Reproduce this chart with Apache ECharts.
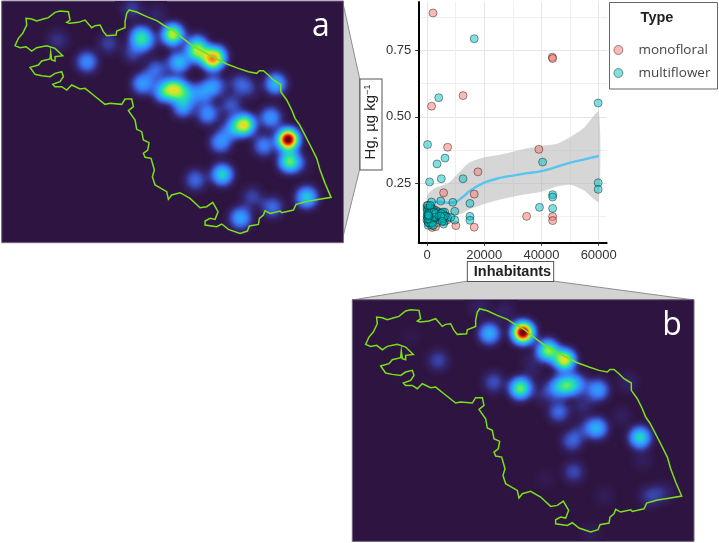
<!DOCTYPE html>
<html><head><meta charset="utf-8">
<style>html,body{margin:0;padding:0;background:#fff}#c{width:719px;height:543px}</style>
<script src="https://cdn.jsdelivr.net/npm/echarts@6/dist/echarts.min.js"></script>
</head><body><div id="c"></div>
<script>
// Region outline, in map units
const outline = [[387,30],[410,36],[440,50],[470,62],[490,75],[520,92],[545,112],[575,135],[600,150],[640,172],[680,192],[715,205],[745,215],[770,220],[778,212],[790,212],[805,225],[820,240],[842,253],[842,275],[860,300],[875,330],[885,355],[897,372],[912,400],[930,435],[950,475],[960,510],[975,550],[993,592],[945,600],[920,604],[888,613],[880,630],[845,638],[840,633],[810,640],[795,632],[790,645],[778,655],[775,673],[748,678],[742,693],[720,700],[685,688],[665,672],[650,680],[615,675],[615,663],[630,655],[645,658],[654,635],[638,607],[620,620],[600,623],[570,595],[540,578],[515,585],[505,598],[500,575],[465,555],[457,530],[463,510],[453,475],[435,472],[430,460],[443,450],[447,428],[430,420],[425,395],[410,388],[405,360],[385,332],[400,320],[395,297],[375,297],[365,313],[330,310],[315,313],[280,285],[255,265],[240,267],[215,255],[200,270],[185,260],[165,260],[158,253],[180,245],[190,230],[185,215],[165,220],[150,230],[125,227],[105,223],[90,202],[115,195],[125,183],[150,177],[152,157],[155,180],[165,183],[165,170],[188,167],[165,145],[140,137],[110,143],[95,153],[78,140],[60,143],[45,137],[55,115],[68,100],[80,75],[78,55],[95,57],[110,63],[130,57],[145,53],[165,37],[180,33],[205,35],[210,60],[200,67],[208,70],[235,67],[255,60],[275,83],[285,77],[300,75],[310,95],[320,107],[348,105],[350,93],[375,83],[375,65],[380,40],[387,30]];
const panelBounds = [[5,3],[1030,3],[1030,728],[5,728],[5,3]];

// Hotspots: map x, map y, intensity
const hotspotsA = [[862,417,1],[866,483,.56],[732,373,.68],[810,352,.33],[790,435,.28],[660,425,.32],[695,385,.3],[622,340,.31],[692,315,.2],[548,318,.36],[520,265,.54],[490,275,.4],[550,275,.36],[640,258,.32],[600,280,.3],[427,250,.34],[467,210,.24],[535,187,.4],[590,155,.54],[635,178,.7],[650,165,.32],[517,103,.66],[420,110,.44],[440,125,.2],[400,155,.18],[325,130,.15],[172,120,.12],[260,185,.3],[825,250,.4],[715,250,.18],[745,265,.13],[665,522,.46],[585,538,.23],[720,652,.36],[755,590,.16],[815,620,.24],[918,590,.44],[395,25,.14],[465,45,.09],[900,490,.09],[590,130,.26]];
const hotspotsB = [[516,101,1],[590,155,.6],[640,183,.7],[415,104,.38],[508,268,.58],[650,258,.42],[620,265,.32],[680,255,.24],[740,273,.34],[428,250,.18],[262,185,.16],[623,338,.24],[695,318,.11],[577,285,.11],[737,387,.38],[663,425,.22],[695,390,.11],[866,415,.48],[668,518,.17],[812,350,.06],[875,480,.06],[585,540,.04],[540,190,.07],[545,230,.05],[760,590,.05],[895,590,.14],[935,580,.1],[385,25,.08],[460,40,.08],[830,250,.08],[180,115,.03],[720,700,.05]];

// Scatter: inhabitants, Hg
const monofloral = [[2100,.892],[43800,.725],[43900,.72],[12600,.58],[1600,.54],[7200,.385],[39100,.377],[17800,.292],[5800,.213],[16500,.208],[34800,.124],[43900,.123],[43900,.108],[16500,.083],[10100,.089],[0,.165],[300,.13],[600,.115],[1000,.095],[1800,.082],[2500,.15],[3000,.085],[3500,.1],[3800,.13],[500,.155],[4200,.12],[7000,.11],[6000,.12],[2700,.125]];
const multiflower = [[16500,.795],[59800,.552],[4100,.572],[200,.395],[6300,.344],[3500,.322],[40400,.329],[5000,.266],[12600,.266],[900,.254],[59800,.251],[59800,.226],[43900,.206],[43900,.197],[15000,.173],[9000,.177],[4800,.182],[1600,.178],[43900,.154],[39300,.158],[9700,.143],[15000,.124],[15000,.109],[9700,.11],[8300,.12],[0,.155],[300,.15],[800,.15],[1500,.155],[2000,.15],[200,.135],[600,.13],[1000,.135],[1500,.13],[2100,.13],[200,.12],[500,.115],[900,.12],[1300,.115],[1800,.12],[300,.105],[800,.1],[1200,.105],[1600,.09],[400,.09],[2000,.1],[3300,.145],[4000,.14],[4600,.135],[5200,.125],[5800,.13],[6200,.14],[6600,.125],[3600,.12],[4500,.11],[5800,.095],[6000,.105],[7200,.12],[100,.145],[700,.14],[1300,.145],[1800,.14],[2200,.12],[2400,.14],[0,.11],[500,.1],[1000,.11],[1500,.1],[2200,.09],[2800,.12],[3000,.135],[4200,.125],[5000,.115],[5500,.14],[300,.165],[1100,.165],[5000,.135],[5400,.12],[5700,.115],[6100,.125],[4800,.125],[5300,.105],[100,.125],[300,.115],[700,.125],[400,.13]];

// Smooth trend and confidence band
const trendX = [0,2500,5000,7500,10000,12500,15000,20000,25000,30000,35000,40000,45000,50000,55000,60000];
const trendY = [.17,.178,.178,.175,.178,.197,.221,.251,.268,.278,.287,.295,.31,.327,.339,.352];
const bandLow = [.135,.14,.135,.13,.128,.136,.151,.171,.186,.198,.208,.217,.236,.243,.221,.18];
const bandHigh = [.201,.23,.24,.249,.276,.305,.328,.347,.356,.368,.381,.39,.397,.423,.46,.52];

const xTicks = [0,20000,40000,60000], xMinor = [10000,30000,50000];
const yTicks = [.25,.5,.75], yMinor = [.125,.375,.625,.875];

const flip = pts => pts.map(p => [p[0], -p[1]]);
const poly = (name, pts) => ({type:'Feature',properties:{name},geometry:{type:'Polygon',coordinates:[flip(pts)]}});
echarts.registerMap('marche',{type:'FeatureCollection',features:[poly('panel',panelBounds),poly('region',outline)]});
const heatPoints = a => a.map(p => [p[0], -p[1], p[2]]);

const DARK='#2e1440', GREEN='#7be01a';
const bgGeo = (l,t) => ({map:'marche',silent:true,aspectScale:1,left:l,top:t,width:341.7,height:241.7,z:1,
  label:{show:false},itemStyle:{areaColor:'transparent',borderColor:'transparent'},
  regions:[{name:'panel',itemStyle:{areaColor:DARK,borderColor:'#75667f',borderWidth:1}}]});
const lineGeo = (l,t) => ({map:'marche',silent:true,aspectScale:1,left:l,top:t,width:341.7,height:241.7,z:5,
  label:{show:false},itemStyle:{areaColor:'transparent',borderColor:'transparent'},
  regions:[{name:'region',itemStyle:{areaColor:'transparent',borderColor:GREEN,borderWidth:1.5}}]});

const axisFont = {color:'#333',fontSize:13,fontFamily:'Liberation Sans'};
const grey = '#e6e6e6', grey2 = '#f0f0f0';

const bandItem = (params, api) => {
  if (params.dataIndex !== 0) return null;
  const top = trendX.map((x,i)=>api.coord([x,bandHigh[i]]));
  const bot = trendX.map((x,i)=>api.coord([x,bandLow[i]])).reverse();
  return {type:'polygon',shape:{points:top.concat(bot),smooth:.2},style:{fill:'#b4b4b4',opacity:.55},silent:true};
};

const option = {
  animation:false,
  backgroundColor:'#fff',
  geo:[bgGeo(1.7,1),lineGeo(1.7,1),bgGeo(352.3,299.7),lineGeo(352.3,299.7)],
  visualMap:[{type:'continuous',show:false,min:0,max:1,dimension:2,seriesIndex:[0,1],
    inRange:{color:[DARK,'#33246a','#3a4bb8','#3b78f5','#2f9dfb','#22c8d8','#2be3a0','#8af03c','#e8e030','#fb9a20','#e82a0c','#8c0404','#5a0000','#5a0000','#5a0000']}}],
  grid:[{left:418.7,top:2,width:188,height:240.3}],
  xAxis:[
    {type:'value',min:-2900,max:62790,
     axisLine:{show:true,onZero:false,lineStyle:{color:'#000',width:2}},
     axisTick:{show:true,length:3.5,lineStyle:{color:'#333'},customValues:xTicks},
     axisLabel:{...axisFont,margin:7,customValues:xTicks,hideOverlap:false,formatter:v=>String(v)},
     splitLine:{show:true,lineStyle:{color:grey,width:1}}},
    {type:'value',min:-2900,max:62790,position:'bottom',axisLine:{show:false},
     axisTick:{show:false,customValues:xMinor},axisLabel:{show:false},
     splitLine:{show:true,lineStyle:{color:grey2,width:1}}}
  ],
  yAxis:[
    {type:'value',min:.026,max:.9335,
     axisLine:{show:true,onZero:false,lineStyle:{color:'#000',width:2}},
     axisTick:{show:true,length:3.5,lineStyle:{color:'#333'},customValues:yTicks},
     axisLabel:{...axisFont,margin:7.5,customValues:yTicks,formatter:v=>v.toFixed(2)},
     splitLine:{show:true,lineStyle:{color:grey,width:1}}},
    {type:'value',min:.026,max:.9335,position:'left',axisLine:{show:false},
     axisTick:{show:false,customValues:yMinor},axisLabel:{show:false},
     splitLine:{show:true,lineStyle:{color:grey2,width:1}}}
  ],
  legend:{data:['monofloral','multiflower'],orient:'vertical',left:613.5,top:43,padding:0,itemWidth:9,itemHeight:9,itemGap:9,icon:'circle',
    itemStyle:{borderWidth:.8},
    textStyle:{fontFamily:'Open Sans',fontSize:13.5,color:'#444',padding:[0,0,0,10.5]}},
  graphic:[
    {type:'polygon',z:-1,shape:{points:[[343,3],[359.5,78],[359.5,170],[343,237]]},style:{fill:'#d3d3d3',stroke:'#777',lineWidth:.8}},
    {type:'polygon',z:-1,shape:{points:[[352,300],[468,281],[553,281],[694,300]]},style:{fill:'#d3d3d3',stroke:'#777',lineWidth:.8}},
    {type:'rect',z:-1,shape:{x:609.5,y:2.5,width:108,height:86.5},style:{fill:'#fff',stroke:'#666',lineWidth:1}},
    {type:'text',z:10,style:{x:657,y:18,text:'Type',align:'center',verticalAlign:'middle',font:'bold 14.5px "Liberation Sans"',fill:'#222'}},
    {type:'text',z:10,style:{x:321,y:27,text:'a',align:'center',verticalAlign:'middle',font:'32px "Open Sans"',fill:'#fff'}},
    {type:'text',z:10,style:{x:672,y:326,text:'b',align:'center',verticalAlign:'middle',font:'32px "Open Sans"',fill:'#fff'}},
    {type:'text',z:10,x:510.5,y:271.5,style:{text:'Inhabitants',align:'center',verticalAlign:'middle',font:'bold 14.5px "Liberation Sans"',fill:'#222',stroke:null,borderColor:'#555',borderWidth:1,backgroundColor:'#fff',padding:[2,2,2,6]}},
    {type:'text',z:10,x:371,y:124.5,rotation:Math.PI/2,style:{text:'Hg, µg kg{sup|−1}',align:'center',verticalAlign:'middle',font:'15px "Liberation Sans"',fill:'#222',borderColor:'#555',borderWidth:1,backgroundColor:'#fff',padding:[3,5,3,10],
      rich:{sup:{font:'9px "Liberation Sans"',fill:'#222',verticalAlign:'top',padding:[0,0,5,0]}}}}
  ],
  series:[
    {type:'heatmap',coordinateSystem:'geo',geoIndex:0,data:heatPoints(hotspotsA),pointSize:10,blurSize:11,minOpacity:1,maxOpacity:1,z:2,silent:true},
    {type:'heatmap',coordinateSystem:'geo',geoIndex:2,data:heatPoints(hotspotsB),pointSize:10,blurSize:11,minOpacity:1,maxOpacity:1,z:2,silent:true},
    {type:'custom',name:'band',data:trendX.map((x,i)=>[x,bandLow[i],bandHigh[i]]),encode:{x:0,y:[1,2]},renderItem:bandItem,z:2,silent:true},
    {type:'line',name:'trend',data:trendX.map((x,i)=>[x,trendY[i]]),smooth:.3,symbol:'none',lineStyle:{color:'#56c4f0',width:2.4},z:3,silent:true},
    {type:'scatter',name:'monofloral',data:monofloral,symbolSize:8,itemStyle:{color:'#F8766D',borderColor:'#000',borderWidth:.8,opacity:.5},z:4},
    {type:'scatter',name:'multiflower',data:multiflower,symbolSize:8,itemStyle:{color:'#00BFC4',borderColor:'#000',borderWidth:.8,opacity:.5},z:4}
  ]
};
const chart = echarts.init(document.getElementById('c'),null,{renderer:'canvas'});
chart.setOption(option);
</script></body></html>
